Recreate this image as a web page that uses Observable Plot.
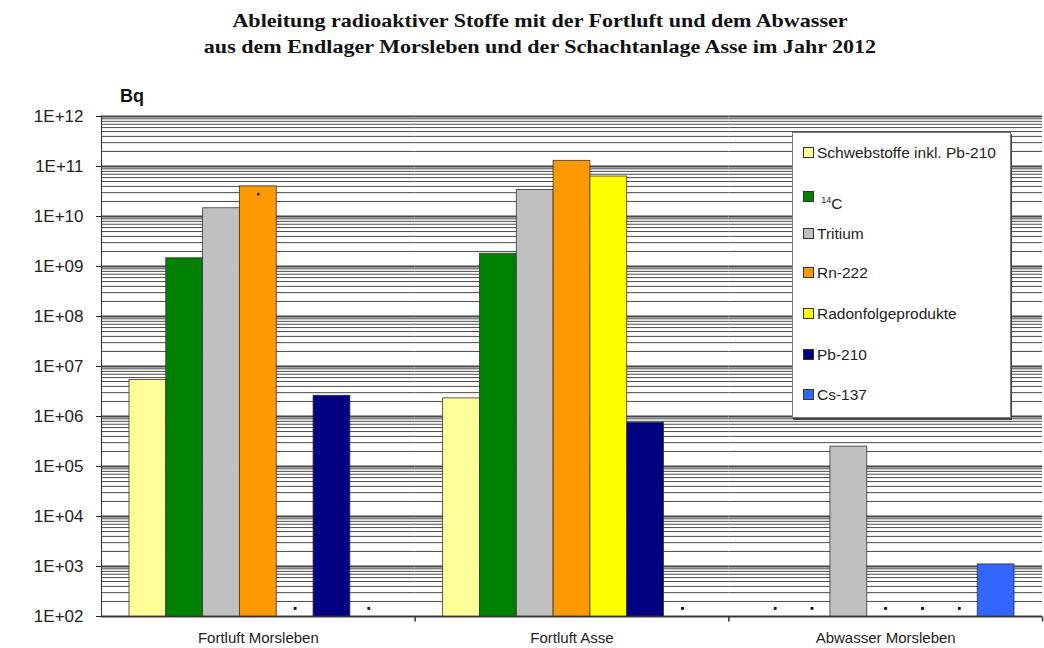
<!DOCTYPE html>
<html>
<head>
<meta charset="utf-8">
<script src="https://cdn.jsdelivr.net/npm/d3@7"></script>
<script src="https://cdn.jsdelivr.net/npm/@observablehq/plot@0.6"></script>
<style>
  html, body { margin: 0; padding: 0; background: #fff; }
  #wrap { position: relative; width: 1044px; height: 648px; overflow: hidden; font-family: "Liberation Sans", Arial, sans-serif; }
  #title { position: absolute; left: 0; top: 8px; width: 1080px; text-align: center; font-family: "Liberation Serif", "Times New Roman", serif; font-weight: bold; font-size: 19px; line-height: 26px; color: #111; transform: scaleX(1.16); transform-origin: 540px 0; }
  #chart { position: absolute; left: 0; top: 60px; }
  #unit { position: absolute; left: 120px; top: 86px; font-weight: bold; font-size: 18px; color: #111; }
  #legend { position: absolute; left: 792px; top: 132px; width: 219px; height: 286px; background: #fff; border: 1px solid #777; box-shadow: 1px 2px 0 #444; box-sizing: border-box; font-size: 15.5px; color: #222; }
  .item { position: absolute; left: 10px; height: 18px; line-height: 18px; white-space: nowrap; }
  .sw { display: inline-block; width: 9px; height: 9px; border: 1px solid #333; margin-right: 3px; vertical-align: 0px; }
  .low { position: relative; top: 7px; }
  sup { font-size: 9px; vertical-align: 6px; }
</style>
</head>
<body>
<div id="wrap">
  <div id="title">Ableitung radioaktiver Stoffe mit der Fortluft und dem Abwasser<br>aus dem Endlager Morsleben und der Schachtanlage Asse im Jahr 2012</div>
  <div id="chart"></div>
  <div id="unit">Bq</div>
  <div id="legend"></div>
</div>
<script>
const groups = ["Fortluft Morsleben", "Fortluft Asse", "Abwasser Morsleben"];
const series = ["Schwebstoffe inkl. Pb-210", "14C", "Tritium", "Rn-222", "Radonfolgeprodukte", "Pb-210", "Cs-137"];
const seriesLabels = ["Schwebstoffe inkl. Pb-210", "<sup>14</sup>C", "Tritium", "Rn-222", "Radonfolgeprodukte", "Pb-210", "Cs-137"];
const colors = ["#FFFF99", "#008000", "#C0C0C0", "#FF9900", "#FFFF00", "#000080", "#3366FF"];

// values in Bq (null = no value, shown as a small dot on the baseline)
const fortluftMorsleben = [5.4e6, 1.46e9, 1.46e10, 4.0e10, null, 2.6e6, null];
const fortluftAsse      = [2.3e6, 1.8e9, 3.4e10, 1.3e11, 6.3e10, 7.5e5, null];
const abwasserMorsleben = [null, null, 2.5e5, null, null, null, 1.1e3];
const groupValues = [fortluftMorsleben, fortluftAsse, abwasserMorsleben];
const missingLevel = 1.45e2;

// small marker drawn inside the Rn-222 bar (Fortluft Morsleben)
const markerGroup = ["Fortluft Morsleben"];
const markerSeries = ["Rn-222"];
const markerValue = [2.8e10];

const yTicks = [1e2, 1e3, 1e4, 1e5, 1e6, 1e7, 1e8, 1e9, 1e10, 1e11, 1e12];
const yTickLabels = ["1E+02", "1E+03", "1E+04", "1E+05", "1E+06", "1E+07", "1E+08", "1E+09", "1E+10", "1E+11", "1E+12"];

const bars = [];
const missing = [];
groups.forEach((g, gi) => {
  series.forEach((s, si) => {
    const v = groupValues[gi][si];
    if (v == null) missing.push({group: g, series: s, value: missingLevel});
    else bars.push({group: g, series: s, value: v});
  });
});
const markers = markerGroup.map((g, i) => ({group: g, series: markerSeries[i], value: markerValue[i]}));

// minor log gridlines (2..9 within each decade)
const minor = [];
for (let i = 0; i < yTicks.length - 1; i++) for (let m = 2; m <= 9; m++) minor.push(m * yTicks[i]);

// small category-boundary tick below the axis
const tickSymbol = {draw(ctx) { ctx.moveTo(0, 0); ctx.lineTo(0, 5); }};

const chart = Plot.plot({
  width: 1044,
  height: 588,
  marginTop: 56,
  marginBottom: 32,
  marginLeft: 101,
  marginRight: 2,
  style: {fontFamily: "Liberation Sans, Arial, sans-serif", fontSize: "15px", color: "#222", background: "transparent"},
  fx: {domain: groups, padding: 0, label: null, round: false},
  x: {domain: series, paddingInner: 0, paddingOuter: 0.76, round: false, axis: null},
  y: {type: "log", domain: [1e2, 1e12], label: null},
  color: {domain: series, range: colors},
  marks: [
    Plot.ruleY(minor, {stroke: "#4a4a4a", strokeWidth: 1}),
    Plot.ruleY(yTicks, {stroke: "#444", strokeWidth: 2}),
    Plot.barY(bars, {fx: "group", x: "series", y1: 1e2, y2: "value", fill: "series", stroke: "#333", strokeWidth: 0.8, inset: 0}),
    Plot.dot(missing, {fx: "group", x: "series", y: "value", symbol: "square", r: 1.6, fill: "#111", stroke: null}),
    Plot.dot(markers, {fx: "group", x: "series", y: "value", symbol: "square", r: 1.4, fill: "#3a1a00", stroke: null}),
    Plot.ruleY([1e2], {stroke: "#333", strokeWidth: 1}),
    Plot.frame({anchor: "left", facetAnchor: "left", stroke: "#333"}),
    Plot.dot(groups, {fx: d => d, frameAnchor: "bottom-right", symbol: tickSymbol, stroke: "#333", fill: "none", r: 5}),
    Plot.axisY({ticks: yTicks, tickFormat: d => yTickLabels[yTicks.indexOf(d)], tickSize: 5, tickPadding: 13, fontSize: 17, label: null}),
    Plot.axisFx({anchor: "bottom", tickSize: 0, tickPadding: 16, fontSize: 15, label: null})
  ]
});
document.getElementById("chart").appendChild(chart);

const legend = document.getElementById("legend");
const itemTops = [11, 51, 92, 131, 172, 213, 253];
series.forEach((s, i) => {
  const div = document.createElement("div");
  div.className = "item";
  div.style.top = itemTops[i] + "px";
  const label = i === 1 ? `<span class="low"> ${seriesLabels[i]}</span>` : seriesLabels[i];
  div.innerHTML = `<span class="sw" style="background:${colors[i]}"></span>${label}`;
  legend.appendChild(div);
});
</script>
</body>
</html>
